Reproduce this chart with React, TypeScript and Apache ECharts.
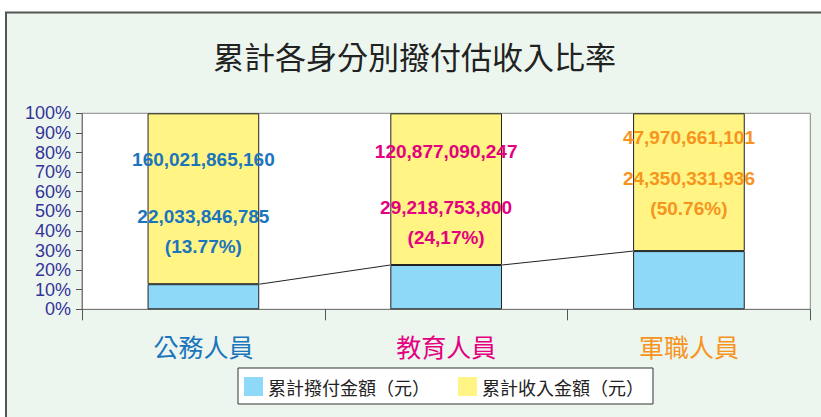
import React, { useEffect, useRef } from "react";
import * as echarts from "echarts";

const categories = ["公務人員", "教育人員", "軍職人員"];
const categoryColors = ["#1B75BC", "#E4007F", "#F7941D"];
const seriesNames = ["累計撥付金額（元）", "累計收入金額（元）"];
// bar heights (share of 100%)
const paidShare = [12.8, 22.6, 29.7];
const incomeShare = [87.2, 77.4, 70.3];
// amounts printed in the bars
const incomeAmounts = [160021865160, 120877090247, 47970661101];
const paidAmounts = [22033846785, 29218753800, 24350331936];
const ratioLabels = ["(13.77%)", "(24,17%)", "(50.76%)"];
// vertical placement of the printed amounts (in axis %)
const incomeLabelAt = [76.5, 80.4, 87.6];
const paidLabelAt = [39.9, 44.4, 58.9];

const titleText = "累計各身分別撥付估收入比率";
const CJK = '"Noto Sans CJK TC", "Noto Sans CJK JP", sans-serif';
const LATIN = '"Liberation Sans", Arial, sans-serif';
const BAR_W = 0.46;

export default function App() {
  const ref = useRef<HTMLDivElement>(null);
  useEffect(() => {
    if (!ref.current) return;
    const chart = echarts.init(ref.current, undefined, { renderer: "svg" });
    const fmt = (n: number) => n.toLocaleString("en-US");
    const labelStyle = (i: number) => ({
      color: categoryColors[i],
      fontFamily: LATIN,
      fontWeight: "bold" as const,
      fontSize: 19,
      opacity: 1,
      textShadowColor: "rgba(0,0,0,0.2)",
      textShadowBlur: 0,
      textShadowOffsetX: 1,
      textShadowOffsetY: 1,
    });
    const labelData: any[] = [];
    categories.forEach((_, i) => {
      labelData.push({
        value: [i, incomeLabelAt[i]],
        label: { show: true, position: "inside", formatter: fmt(incomeAmounts[i]), ...labelStyle(i) },
      });
      labelData.push({
        value: [i, paidLabelAt[i]],
        label: {
          show: true,
          position: "inside",
          formatter: fmt(paidAmounts[i]) + "\n" + ratioLabels[i],
          lineHeight: 30,
          ...labelStyle(i),
        },
      });
    });
    const connectors = paidShare.slice(0, -1).map((v, i) => [i, v, paidShare[i + 1]]);

    chart.setOption({
      animation: false,
      backgroundColor: "#ffffff",
      graphic: [
        {
          type: "rect",
          z: -100,
          shape: { x: 6, y: 12.5, width: 840, height: 430 },
          style: { fill: "#ECF6EF", stroke: "#555555", lineWidth: 2 },
        },
      ],
      title: {
        text: titleText,
        left: 213,
        top: 40,
        padding: 0,
        textStyle: { fontFamily: CJK, fontSize: 31, fontWeight: "normal", color: "#222222" },
      },
      legend: {
        left: 238,
        top: 368,
        padding: [9, 9, 8, 6],
        itemGap: 28,
        itemWidth: 19,
        itemHeight: 19,
        icon: "rect",
        backgroundColor: "#ffffff",
        borderColor: "#333333",
        borderWidth: 1,
        borderRadius: 0,
        selectedMode: false,
        itemStyle: { borderWidth: 0 },
        data: seriesNames,
        textStyle: { fontFamily: CJK, fontSize: 18, color: "#222222" },
      },
      grid: {
        left: 82,
        right: 10.7,
        top: 113.3,
        bottom: 107.7,
        show: true,
        backgroundColor: "#ffffff",
        borderColor: "#888888",
        borderWidth: 1,
      },
      xAxis: {
        type: "category",
        data: categories,
        axisLine: { lineStyle: { color: "#777777", width: 1 } },
        axisTick: { show: true, length: 11, lineStyle: { color: "#555555" } },
        axisLabel: {
          margin: 24,
          fontFamily: CJK,
          fontSize: 25,
          color: (_: any, idx: number) => categoryColors[idx],
        },
        splitLine: { show: false },
      },
      yAxis: {
        type: "value",
        min: 0,
        max: 100,
        interval: 10,
        axisLine: { show: true, lineStyle: { color: "#777777" } },
        axisTick: { show: true, length: 6, lineStyle: { color: "#555555" } },
        axisLabel: {
          margin: 11,
          formatter: "{value}%",
          fontFamily: LATIN,
          fontSize: 18,
          color: "#33339A",
        },
        splitLine: { show: false },
      },
      series: [
        {
          name: seriesNames[0],
          type: "bar",
          stack: "total",
          barWidth: BAR_W * 100 + "%",
          data: paidShare,
          itemStyle: { color: "#8ED8F8", borderColor: "#222222", borderWidth: 1 },
          silent: true,
        },
        {
          name: seriesNames[1],
          type: "bar",
          stack: "total",
          barWidth: BAR_W * 100 + "%",
          data: incomeShare,
          itemStyle: { color: "#FFF484", borderColor: "#222222", borderWidth: 1 },
          silent: true,
        },
        {
          type: "custom",
          silent: true,
          z: 4,
          encode: { x: 0, y: 1 },
          data: connectors,
          renderItem: (params: any, api: any) => {
            const i = api.value(0);
            const p0 = api.coord([i, api.value(1)]);
            const p1 = api.coord([i + 1, api.value(2)]);
            const half = (api.size([1, 0])[0] * BAR_W) / 2;
            return {
              type: "line",
              shape: { x1: p0[0] + half, y1: p0[1], x2: p1[0] - half, y2: p1[1] },
              style: { stroke: "#222222", lineWidth: 1 },
            };
          },
        },
        {
          type: "scatter",
          silent: true,
          z: 6,
          symbolSize: 0,
          itemStyle: { opacity: 1 },
          data: labelData,
          emphasis: { disabled: true },
        },
      ],
    });
    return () => chart.dispose();
  }, []);
  return (
    <div
      ref={ref}
      style={{ position: "absolute", left: 0, top: 0, width: 821, height: 417 }}
    />
  );
}
